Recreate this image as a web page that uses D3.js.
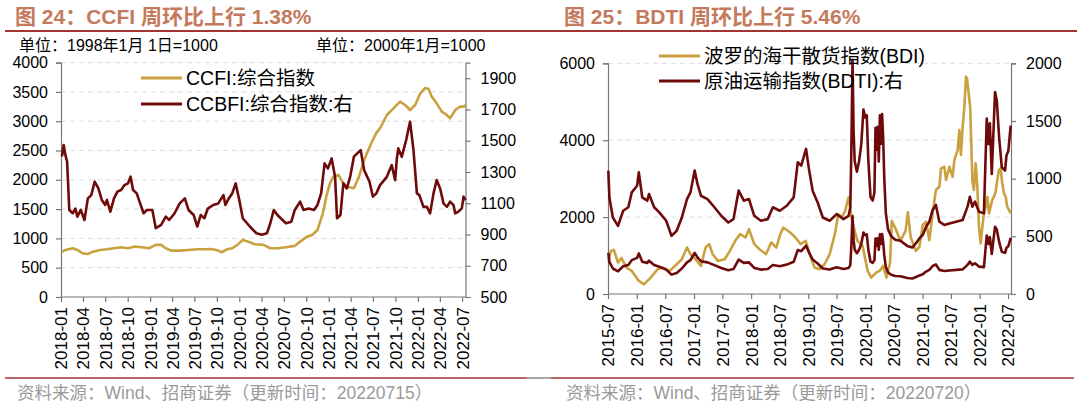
<!DOCTYPE html>
<html>
<head>
<meta charset="utf-8">
<script src="https://cdn.jsdelivr.net/npm/d3@7"></script>
<style>
  body { margin: 0; background: #fff; }
  svg { display: block; font-family: "Liberation Sans", Arial, "Noto Sans CJK SC", sans-serif; }
</style>
</head>
<body>
<svg width="1080" height="404"></svg>
<script>
// ---- data ----
const ccfiData = [
  ["2018-01-05",770],["2018-01-20",803],["2018-02-18",832],["2018-03-09",803],["2018-03-30",746],
  ["2018-04-21",734],["2018-05-12",774],["2018-06-10",803],["2018-07-08",815],["2018-08-06",832],
  ["2018-09-04",849],["2018-10-02",832],["2018-11-01",860],["2018-11-28",849],["2018-12-27",832],
  ["2019-01-24",889],["2019-02-15",889],["2019-03-06",832],["2019-03-28",792],["2019-05-02",792],
  ["2019-06-07",803],["2019-07-13",815],["2019-08-11",815],["2019-09-09",820],["2019-10-07",792],
  ["2019-10-21",763],["2019-11-12",815],["2019-12-03",832],["2019-12-24",889],["2020-01-15",973],
  ["2020-02-06",945],["2020-03-04",899],["2020-04-09",889],["2020-05-07",832],["2020-06-05",832],
  ["2020-07-10",849],["2020-08-15",872],["2020-09-06",945],["2020-10-04",1030],["2020-10-25",1058],
  ["2020-11-16",1143],["2020-12-08",1428],["2020-12-22",1712],["2021-01-06",1940],["2021-01-20",2054],
  ["2021-02-10",2083],["2021-02-25",1969],["2021-03-16",1883],["2021-04-14",1855],["2021-05-05",2054],
  ["2021-05-26",2339],["2021-06-24",2623],["2021-07-15",2800],["2021-07-30",2878],["2021-08-27",3106],
  ["2021-09-23",3219],["2021-10-20",3333],["2021-11-10",3276],["2021-11-30",3191],["2021-12-21",3276],
  ["2022-01-10",3470],["2022-01-31",3567],["2022-02-13",3555],["2022-02-27",3418],["2022-03-19",3305],
  ["2022-04-09",3163],["2022-04-30",3106],["2022-05-13",3048],["2022-06-03",3191],["2022-06-23",3248],
  ["2022-07-07",3248],["2022-07-15",3276]
];

const ccbfiData = [
  ["2018-01-05",1400],["2018-01-12",1473],["2018-01-19",1408],["2018-01-26",1366],["2018-02-04",1057],
  ["2018-02-18",1036],["2018-03-01",1066],["2018-03-09",1014],["2018-03-23",1057],["2018-04-07",993],
  ["2018-04-21",1131],["2018-05-05",1152],["2018-05-19",1238],["2018-06-03",1195],["2018-06-17",1121],
  ["2018-07-01",1089],["2018-07-08",1121],["2018-07-22",1046],["2018-08-06",1131],["2018-08-20",1174],
  ["2018-09-04",1185],["2018-09-18",1216],["2018-10-02",1227],["2018-10-13",1270],["2018-10-23",1185],
  ["2018-11-07",1163],["2018-11-21",1099],["2018-12-05",1036],["2018-12-19",1057],["2019-01-10",1057],
  ["2019-01-24",940],["2019-02-15",961],["2019-03-06",1014],["2019-03-20",993],["2019-04-11",1036],
  ["2019-05-02",1099],["2019-05-23",1131],["2019-06-07",1057],["2019-06-28",1025],["2019-07-13",951],
  ["2019-07-27",1025],["2019-08-11",1004],["2019-08-25",1066],["2019-09-16",1089],["2019-10-07",1099],
  ["2019-10-28",1152],["2019-11-05",1089],["2019-11-19",1131],["2019-12-03",1163],["2019-12-17",1227],
  ["2020-01-01",1121],["2020-01-15",1004],["2020-02-13",951],["2020-03-11",908],["2020-04-02",898],
  ["2020-04-23",908],["2020-05-07",972],["2020-05-21",1057],["2020-06-05",1025],["2020-06-26",993],
  ["2020-07-10",972],["2020-08-01",982],["2020-08-15",1057],["2020-09-06",1110],["2020-09-20",1057],
  ["2020-10-11",1066],["2020-11-02",1057],["2020-11-16",1089],["2020-12-01",1163],["2020-12-15",1355],
  ["2020-12-29",1323],["2021-01-13",1387],["2021-01-27",1270],["2021-02-04",1004],["2021-02-18",1025],
  ["2021-03-02",1227],["2021-03-16",1195],["2021-03-30",1270],["2021-04-14",1398],["2021-04-28",1419],
  ["2021-05-12",1440],["2021-05-26",1312],["2021-06-17",1238],["2021-07-01",1142],["2021-07-15",1163],
  ["2021-07-30",1216],["2021-08-27",1269],["2021-09-16",1344],["2021-09-30",1248],["2021-10-07",1387],
  ["2021-10-13",1451],["2021-10-27",1397],["2021-11-14",1504],["2021-11-30",1622],["2021-12-14",1440],
  ["2021-12-28",1163],["2022-01-07",1152],["2022-01-24",1077],["2022-02-07",1077],["2022-02-20",1035],
  ["2022-03-06",1163],["2022-03-19",1248],["2022-04-02",1195],["2022-04-16",1099],["2022-04-30",1077],
  ["2022-05-13",1110],["2022-05-27",1088],["2022-06-03",1035],["2022-06-16",1046],["2022-06-30",1067],
  ["2022-07-07",1142],["2022-07-15",1120]
];

const bdiData = [
  ["2015-07-03",861],["2015-07-20",1122],["2015-08-07",1148],["2015-09-03",817],["2015-09-25",939],
  ["2015-10-27",687],["2015-11-30",600],["2016-01-14",339],["2016-02-16",252],["2016-03-30",426],
  ["2016-05-13",643],["2016-06-15",687],["2016-07-29",600],["2016-09-12",774],["2016-10-15",904],
  ["2016-11-17",1209],["2016-12-09",1035],["2017-01-11",904],["2017-02-14",730],["2017-03-16",1209],
  ["2017-04-08",1296],["2017-04-30",1035],["2017-06-02",861],["2017-07-16",904],["2017-08-18",1122],
  ["2017-09-21",1383],["2017-10-23",1557],["2017-11-26",1470],["2017-12-18",1687],["2018-01-21",1296],
  ["2018-02-23",1165],["2018-04-06",1035],["2018-05-09",1339],["2018-06-11",1209],["2018-07-03",1513],
  ["2018-07-25",1730],["2018-09-08",1600],["2018-10-11",1470],["2018-11-13",1296],["2018-12-16",1383],
  ["2019-01-07",1078],["2019-02-10",687],["2019-03-13",643],["2019-04-15",774],["2019-05-18",1035],
  ["2019-06-20",1557],["2019-07-12",2079],["2019-08-03",1991],["2019-08-25",2165],["2019-09-16",2513],
  ["2019-10-08",1904],["2019-11-11",1383],["2019-12-14",1252],["2020-01-16",600],["2020-02-07",426],
  ["2020-03-10",557],["2020-04-01",600],["2020-04-23",730],["2020-05-15",426],["2020-06-07",817],
  ["2020-06-18",1904],["2020-07-09",1730],["2020-08-12",1383],["2020-09-14",1643],["2020-09-29",2122],
  ["2020-10-17",1470],["2020-11-19",1122],["2020-12-12",1230],["2021-01-02",1794],["2021-01-23",1880],
  ["2021-02-13",1400],["2021-03-06",2098],["2021-03-27",2704],["2021-04-18",2790],["2021-04-29",3268],
  ["2021-05-20",3310],["2021-05-31",2964],["2021-06-21",3310],["2021-07-12",3050],["2021-07-23",3484],
  ["2021-08-13",3744],["2021-08-24",4264],["2021-09-03",3614],["2021-09-14",4350],["2021-09-25",4870],
  ["2021-10-05",5650],["2021-10-12",5600],["2021-11-01",4870],["2021-11-15",2964],["2021-11-25",2704],
  ["2021-12-06",3398],["2021-12-17",2790],["2021-12-27",1750],["2022-01-07",1318],["2022-01-18",1750],
  ["2022-01-28",2098],["2022-02-08",2270],["2022-02-19",2530],["2022-03-01",2098],["2022-03-12",2270],
  ["2022-03-22",2444],["2022-04-02",2530],["2022-04-13",2660],["2022-04-23",2964],["2022-05-04",3224],
  ["2022-05-15",3268],["2022-05-25",2878],["2022-06-05",2618],["2022-06-16",2530],["2022-06-26",2270],
  ["2022-07-07",2184],["2022-07-18",2098]
];

const bdtiData = [
  ["2015-07-03",1070],["2015-07-10",837],["2015-08-01",663],["2015-09-03",591],["2015-10-06",722],
  ["2015-11-08",752],["2015-11-30",881],["2016-01-03",939],["2016-01-14",1055],["2016-02-05",837],
  ["2016-03-08",809],["2016-03-19",867],["2016-04-21",752],["2016-05-24",707],["2016-07-07",635],
  ["2016-08-10",504],["2016-09-12",548],["2016-10-15",663],["2016-11-17",823],["2016-12-09",881],
  ["2017-01-05",1070],["2017-01-23",954],["2017-02-14",852],["2017-03-28",823],["2017-05-11",752],
  ["2017-06-24",678],["2017-08-08",620],["2017-09-10",649],["2017-10-13",896],["2017-11-15",809],
  ["2017-12-18",823],["2018-01-21",678],["2018-03-04",635],["2018-04-17",649],["2018-05-20",752],
  ["2018-07-03",722],["2018-08-17",765],["2018-09-30",837],["2018-10-26",1142],["2018-11-17",1113],
  ["2018-12-18",1258],["2019-01-07",1070],["2019-01-29",896],["2019-03-02",794],["2019-04-04",663],
  ["2019-05-18",635],["2019-07-01",693],["2019-08-14",649],["2019-09-16",678],["2019-09-27",750],
  ["2019-10-04",1300],["2019-10-11",2030],["2019-10-18",1400],["2019-10-25",1150],["2019-11-08",1060],
  ["2019-11-22",1150],["2019-12-06",1300],["2019-12-20",1600],["2019-12-31",1530],["2020-01-10",1550],
  ["2020-01-20",1160],["2020-02-03",840],["2020-02-17",810],["2020-02-28",880],["2020-03-06",1440],
  ["2020-03-13",1250],["2020-03-20",1450],["2020-03-27",1150],["2020-04-03",1550],["2020-04-10",1300],
  ["2020-04-17",1560],["2020-04-24",1350],["2020-05-01",1000],["2020-05-11",700],["2020-05-25",560],
  ["2020-06-15",500],["2020-07-10",470],["2020-08-12",461],["2020-09-25",417],["2020-10-28",403],
  ["2020-12-01",461],["2020-12-12",483],["2021-01-02",512],["2021-01-23",583],["2021-02-13",627],
  ["2021-03-06",728],["2021-03-27",772],["2021-04-18",627],["2021-05-20",598],["2021-06-21",612],
  ["2021-08-03",627],["2021-09-14",641],["2021-10-15",757],["2021-10-30",843],["2021-11-15",757],
  ["2021-12-02",800],["2021-12-27",713],["2022-01-28",700],["2022-02-15",1520],["2022-02-26",1300],
  ["2022-03-07",1480],["2022-03-19",1040],["2022-04-09",1750],["2022-04-20",1680],["2022-05-05",1360],
  ["2022-05-22",1100],["2022-06-12",1070],["2022-06-21",1200],["2022-07-03",1240],["2022-07-18",1460]
];

const leftXTicks = ["2018-01","2018-04","2018-07","2018-10","2019-01","2019-04","2019-07","2019-10",
  "2020-01","2020-04","2020-07","2020-10","2021-01","2021-04","2021-07","2021-10","2022-01","2022-04","2022-07"];
const rightXTicks = ["2015-07","2016-01","2016-07","2017-01","2017-07","2018-01","2018-07","2019-01",
  "2019-07","2020-01","2020-07","2021-01","2021-07","2022-01","2022-07"];

const ccfiTicks = [0, 500, 1000, 1500, 2000, 2500, 3000, 3500, 4000];
const ccbfiTicks = [500, 700, 900, 1100, 1300, 1500, 1700, 1900];
const bdiTicks = [0, 2000, 4000, 6000];
const bdtiTicks = [0, 500, 1000, 1500, 2000];

const GOLD = "#C9A13E";
const DARK = "#6E0A0A";
const RULE = "#A23434";
const AXIS = "#777";

const parseDay = d3.timeParse("%Y-%m-%d");
const parseMonth = d3.timeParse("%Y-%m");

const svg = d3.select("svg");

function drawPanel(p) {
    const g = svg.append("g");

    const scX = d3.scaleTime().domain(p.xDomain).range([p.x0, p.x1]);
    const scYL = d3.scaleLinear().domain(p.yLDomain).range([p.y0, p.y1]);
    const scYR = d3.scaleLinear().domain(p.yRDomain).range([p.y0, p.y1]);

    // dashed grid
    g.selectAll(".grid")
        .data(p.yLTicks.filter(v => v !== p.yLDomain[0]))
        .enter()
        .append("line")
        .attr("x1", p.x0).attr("x2", p.x1)
        .attr("y1", d => scYL(d)).attr("y2", d => scYL(d))
        .attr("stroke", "#dcdcdc")
        .attr("stroke-dasharray", "5,4")
        .attr("stroke-width", 1);

    const axL = g.append("g")
        .attr("transform", `translate(${p.x0},0)`)
        .call(d3.axisLeft(scYL).tickValues(p.yLTicks).tickSize(5).tickPadding(8).tickFormat(d3.format("d")));
    const axR = g.append("g")
        .attr("transform", `translate(${p.x1},0)`)
        .call(d3.axisRight(scYR).tickValues(p.yRTicks).tickSize(5).tickPadding(10).tickFormat(d3.format("d")));
    const axB = g.append("g")
        .attr("transform", `translate(0,${p.y0})`)
        .call(d3.axisBottom(scX).tickValues(p.xTicks.map(parseMonth)).tickSize(5).tickSizeOuter(0)
            .tickFormat(d3.timeFormat("%Y-%m")));

    [axL, axR, axB].forEach(a => {
        a.selectAll("path").attr("stroke", AXIS).attr("stroke-width", 1.2);
        a.selectAll("line").attr("stroke", AXIS).attr("stroke-width", 1.2);
        a.selectAll("text").attr("fill", "#000").style("font-size", "16px")
            .style("font-family", "'Liberation Sans', Arial, sans-serif");
    });
    axB.select(".domain").attr("d", `M${p.x0},0H${p.x1}`);

    axB.selectAll("text")
        .style("font-size", "17px")
        .style("text-anchor", "end")
        .attr("x", -10)
        .attr("y", 0)
        .attr("dy", "0.35em")
        .attr("transform", "rotate(-90)");

    p.series.forEach(s => {
        const sc = s.axis === "right" ? scYR : scYL;
        const line = d3.line()
            .x(d => scX(parseDay(d[0])))
            .y(d => sc(d[1]));
        g.append("path")
            .datum(s.data)
            .attr("fill", "none")
            .attr("stroke", s.color)
            .attr("stroke-width", 2.6)
            .attr("stroke-linejoin", "round")
            .attr("d", line);
    });

    // legend
    p.legend.forEach((l, i) => {
        const ly = p.legendY + i * p.legendGap;
        g.append("line")
            .attr("x1", p.legendX).attr("x2", p.legendX + 41)
            .attr("y1", ly).attr("y2", ly)
            .attr("stroke", l.color).attr("stroke-width", 3);
        g.append("text")
            .attr("x", p.legendX + 45).attr("y", ly)
            .attr("dy", "0.36em")
            .style("font-size", "19.5px")
            .attr("fill", "#000")
            .text(l.label);
    });

    // title, rules, source
    g.append("text")
        .attr("x", p.titleX).attr("y", 24)
        .style("font-size", "21px").style("font-weight", "bold")
        .attr("fill", "#C47A5C")
        .text(p.title);
    g.append("line")
        .attr("x1", p.ruleX0).attr("x2", p.ruleX1).attr("y1", 31).attr("y2", 31)
        .attr("stroke", RULE).attr("stroke-width", 2);
    g.append("line")
        .attr("x1", p.footX0).attr("x2", p.footX1).attr("y1", 378).attr("y2", 378)
        .attr("stroke", RULE).attr("stroke-width", 1.5);
    g.append("line")
        .attr("x1", p.stubX0).attr("x2", p.stubX1).attr("y1", 378).attr("y2", 378)
        .attr("stroke", "#8a8a8a").attr("stroke-width", 1.5);
    g.append("text")
        .attr("x", p.titleX + 2).attr("y", 399)
        .style("font-size", "17.5px")
        .attr("fill", "#9a9a9a")
        .text(p.source);

    p.units.forEach(u => {
        g.append("text")
            .attr("x", u.x).attr("y", 51)
            .style("font-size", "16px")
            .attr("fill", "#000")
            .text(u.text);
    });
}

drawPanel({
    x0: 61, x1: 465.5, y0: 297, y1: 62.6,
    xDomain: [parseDay("2018-01-01"), parseDay("2022-07-15")],
    yLDomain: [0, 4000], yRDomain: [500, 2000],
    yLTicks: ccfiTicks, yRTicks: ccbfiTicks,
    xTicks: leftXTicks,
    series: [
        { data: ccfiData, color: GOLD, axis: "left" },
        { data: ccbfiData, color: DARK, axis: "right" }
    ],
    legend: [
        { label: "CCFI:综合指数", color: GOLD },
        { label: "CCBFI:综合指数:右", color: DARK }
    ],
    legendX: 141, legendY: 78, legendGap: 26,
    title: "图 24：CCFI 周环比上行 1.38%",
    titleX: 15, ruleX0: 5, ruleX1: 540, footX0: 5, footX1: 527, stubX0: 527, stubX1: 540,
    source: "资料来源：Wind、招商证券（更新时间：20220715）",
    units: [
        { x: 19, text: "单位：1998年1月 1日=1000" },
        { x: 316, text: "单位：2000年1月=1000" }
    ]
});

drawPanel({
    x0: 608, x1: 1011, y0: 294, y1: 63.3,
    xDomain: [parseDay("2015-07-01"), parseDay("2022-07-20")],
    yLDomain: [0, 6000], yRDomain: [0, 2000],
    yLTicks: bdiTicks, yRTicks: bdtiTicks,
    xTicks: rightXTicks,
    series: [
        { data: bdiData, color: GOLD, axis: "left" },
        { data: bdtiData, color: DARK, axis: "left" },
        { data: bdtiData, color: DARK, axis: "right" }
    ],
    legend: [
        { label: "波罗的海干散货指数(BDI)", color: GOLD },
        { label: "原油运输指数(BDTI):右", color: DARK }
    ],
    legendX: 659, legendY: 56, legendGap: 25,
    title: "图 25：BDTI 周环比上行 5.46%",
    titleX: 564, ruleX0: 540, ruleX1: 1077, footX0: 551, footX1: 1074, stubX0: 540, stubX1: 551,
    source: "资料来源：Wind、招商证券（更新时间：20220720）",
    units: []
});
</script>
</body>
</html>
